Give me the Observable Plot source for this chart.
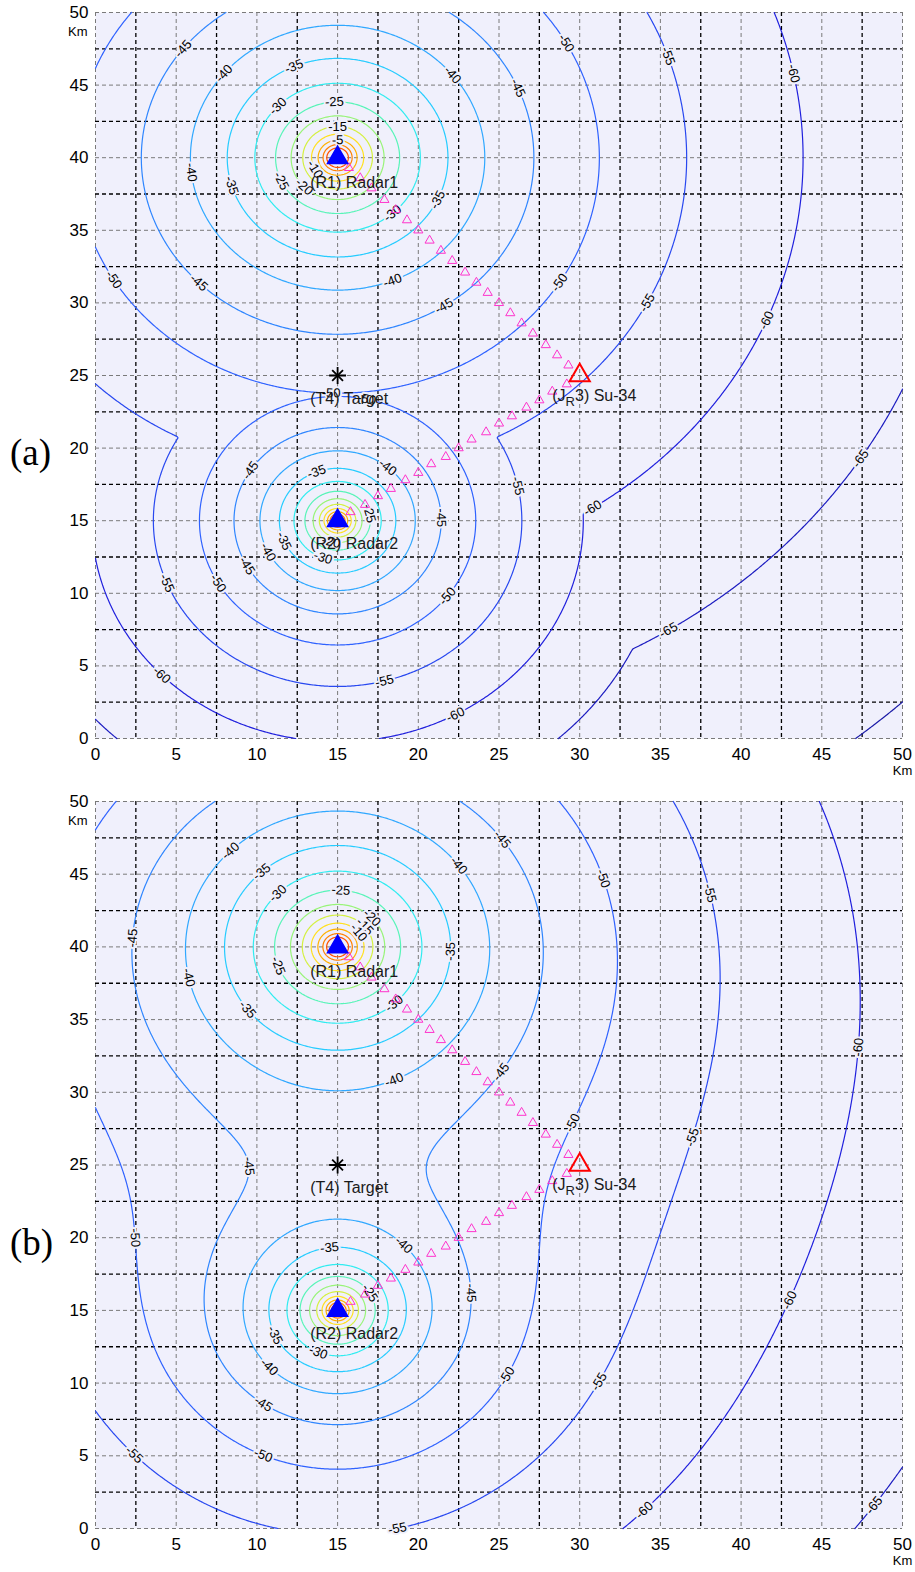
<!DOCTYPE html>
<html>
<head>
<meta charset="utf-8">
<script src="https://cdn.jsdelivr.net/npm/d3@7"></script>
<script src="https://cdn.jsdelivr.net/npm/@observablehq/plot@0.6"></script>
<style>
  html, body { margin: 0; padding: 0; background: #fff; }
  #wrap { position: relative; width: 915px; height: 1572px; }
  #wrap svg { display: block; }
  .plabel { position: absolute; left: 10px; font-family: "Liberation Serif", "Times New Roman", serif; font-size: 37px; line-height: 1; color: #000; }
</style>
</head>
<body>
<div id="wrap">
  <div id="pa"></div>
  <div id="pb"></div>
  <div class="plabel" style="top:434px">(a)</div>
  <div class="plabel" style="top:1224px">(b)</div>
</div>
<script>
// ---------------- data ----------------
const tickVals = [0, 5, 10, 15, 20, 25, 30, 35, 40, 45, 50];
const gridFive = [0, 5, 10, 15, 20, 25, 30, 35, 40, 45, 50];
const gridMid = [2.5, 7.5, 12.5, 17.5, 22.5, 27.5, 32.5, 37.5, 42.5, 47.5];

const levels      = [-70, -65, -60, -55, -50, -45, -40, -35, -30, -25, -20, -15, -10, -5, 0, 5];
const levelColors = ["#1a1aa6", "#1c1cc0", "#2020dd", "#2848f0", "#2f62ff", "#2f86ff", "#30a8ff", "#26ccff",
                     "#30ecf0", "#58f4b8", "#98f478", "#d4f040", "#ffe020", "#ffb000", "#ff8000", "#ff5000"];

// radars (km) and their received level at 1 km (dB) in each panel
const radarX = [15, 15];
const radarY = [40, 15];
const radarNames = ["(R1) Radar1", "(R2) Radar2"];
const gainA = [-1.6, -12.7];
const gainB = [-1.4, -10.5];
const pathExponent = 4;

const targetX = [15], targetY = [25], targetName = ["(T4) Target"];
const jammerX = [30], jammerY = [25], jammerName = ["(JR3) Su-34"];

const textX = [13.3, 13.3, 13.3, 28.3];
const textY = [38.3, 13.4, 23.4, 23.6];
const textStr = ["(R1) Radar1", "(R2) Radar2", "(T4) Target", "(JR3) Su-34"];

// small magenta triangles: Radar1 -> jammer, jammer -> Radar2
const pathX = [15.7, 16.4, 17.1, 17.9, 18.6, 19.3, 20.0, 20.7, 21.4, 22.1, 22.9, 23.6, 24.3, 25.0, 25.7, 26.4, 27.1, 27.9, 28.6, 29.3,
               29.2, 28.3, 27.5, 26.7, 25.8, 25.0, 24.2, 23.3, 22.5, 21.7, 20.8, 20.0, 19.2, 18.3, 17.5, 16.7, 15.8];
const pathY = [39.3, 38.6, 37.9, 37.1, 36.4, 35.7, 35.0, 34.3, 33.6, 32.9, 32.1, 31.4, 30.7, 30.0, 29.3, 28.6, 27.9, 27.1, 26.4, 25.7,
               24.4, 23.9, 23.3, 22.8, 22.2, 21.7, 21.1, 20.6, 20.0, 19.4, 18.9, 18.3, 17.8, 17.2, 16.7, 16.1, 15.6];

// contour labels [level, x, y] (approximate, snapped to the contour)
const labelsA = [
  [-45, 5.5, 47.4], [-40, 7.9, 45.9], [-35, 12.3, 46.2], [-30, 11.3, 43.5], [-25, 14.8, 43.6], [-15, 15.0, 42.1], [-5, 15.0, 41.2],
  [-10, 13.4, 39.1], [-20, 13.0, 38.1], [-25, 11.4, 38.3], [-35, 8.4, 38.1], [-40, 5.8, 39.0],
  [-30, 18.4, 36.2], [-35, 21.2, 37.1], [-40, 18.4, 31.5], [-45, 21.6, 29.8], [-45, 6.4, 31.3], [-50, 1.0, 31.5], [-50, 14.6, 23.8],
  [-40, 21.9, 45.5], [-45, 26.0, 44.7], [-50, 28.9, 47.7], [-55, 35.0, 46.8], [-60, 42.9, 45.7],
  [-50, 28.7, 31.4], [-55, 34.2, 30.0], [-60, 41.5, 28.8],
  [-50, 16.8, 23.1], [-45, 9.8, 18.3], [-35, 13.7, 18.2], [-40, 18.0, 18.5], [-25, 16.6, 15.4], [-45, 21.4, 15.2],
  [-35, 11.6, 13.6], [-40, 10.6, 12.8], [-45, 9.4, 11.9], [-30, 14.1, 12.4], [-20, 14.6, 13.5],
  [-50, 7.5, 10.7], [-55, 4.5, 10.7], [-60, 4.2, 4.5], [-55, 17.9, 4.2], [-50, 21.8, 9.8], [-60, 22.2, 2.0],
  [-55, 25.9, 17.3], [-60, 30.8, 15.8], [-65, 47.2, 19.4], [-65, 35.4, 7.6]
];
const labelsB = [
  [-40, 8.4, 46.5], [-35, 10.4, 45.0], [-30, 11.3, 43.7], [-25, 15.2, 43.7], [-45, 2.4, 40.6], [-40, 5.7, 37.9],
  [-25, 11.2, 38.6], [-35, 9.4, 35.6], [-30, 18.4, 36.2], [-40, 18.5, 31.0], [-35, 21.9, 39.7], [-40, 22.3, 45.4],
  [-20, 16.8, 41.6], [-15, 16.3, 41.0], [-10, 15.9, 40.6],
  [-45, 9.3, 24.9], [-45, 24.9, 47.2], [-50, 31.3, 44.6], [-55, 37.9, 43.7], [-60, 47.3, 33.1], [-45, 25.1, 31.4],
  [-50, 29.6, 27.9], [-55, 37.0, 26.9],
  [-50, 2.6, 20.0], [-35, 14.6, 18.6], [-40, 18.6, 18.9], [-35, 11.5, 13.5], [-40, 11.0, 11.4], [-45, 10.7, 9.0],
  [-50, 10.6, 5.7], [-55, 17.8, 0.7], [-55, 2.7, 5.4], [-30, 13.9, 12.4], [-25, 16.2, 15.6],
  [-45, 22.7, 16.2], [-50, 24.8, 10.9], [-55, 30.7, 10.4], [-60, 42.9, 15.7], [-60, 33.6, 1.7], [-65, 48.2, 1.7]
];

// ---------------- drawing ----------------
const BG = "#f0f0fc";
const FONT = "'Liberation Sans', Arial, Helvetica, sans-serif";
const W = 915, ML = 95, MR = 13;

function field(x, y, gains, combine) {
  const p = radarX.map((rx, k) =>
    gains[k] - 5 * pathExponent * Math.log10((x - rx) ** 2 + (y - radarY[k]) ** 2 + 0.02));
  if (combine === "max") return Math.max(...p);
  return 20 * Math.log10(p.reduce((s, v) => s + Math.pow(10, v / 20), 0));
}

function contourLines(values, n, step, level) {
  const geom = d3.contours().size([n, n]).thresholds([level])(values)[0];
  const out = [];
  for (const poly of geom.coordinates) for (const ring of poly) {
    const pts = ring.slice(0, -1);
    if (pts.length < 2) continue;
    const onB = pts.map(p => p[0] <= 0 || p[0] >= n || p[1] <= 0 || p[1] >= n);
    const b0 = onB.indexOf(true);
    if (b0 < 0) { out.push([...pts, pts[0]]); continue; }
    let cur = [];
    for (let k = 1; k <= pts.length; k++) {
      const i = (b0 + k) % pts.length;
      if (onB[i]) { if (cur.length > 1) out.push(cur); cur = []; }
      else cur.push(pts[i]);
    }
    if (cur.length > 1) out.push(cur);
  }
  return out.map(l => l.map(([cx, cy]) => [(cx - 0.5) * step, (cy - 0.5) * step]));
}

function buildPanel({gains, combine, labels, H, MT, MB}) {
  const n = 501, step = 50 / (n - 1);
  const values = new Float64Array(n * n);
  for (let j = 0; j < n; j++) for (let i = 0; i < n; i++)
    values[i + j * n] = field(i * step, j * step, gains, combine);

  const kx = (W - ML - MR) / 50, ky = (H - MT - MB) / 50;
  const linesByLevel = new Map();
  const contourMarks = [];
  levels.forEach((lv, k) => {
    const lines = contourLines(values, n, step, lv);
    linesByLevel.set(lv, lines);
    const data = [];
    lines.forEach((l, id) => l.forEach(([x, y]) => data.push({x, y, id})));
    contourMarks.push(Plot.line(data, {x: "x", y: "y", z: "id", stroke: levelColors[k], strokeWidth: 1.2}));
  });

  const labelData = labels.map(([lv, lx, ly]) => {
    const ls = linesByLevel.get(lv) || [];
    let best = null, bd = Infinity;
    for (const line of ls) for (let i = 0; i < line.length; i++) {
      const d = ((line[i][0] - lx) * kx) ** 2 + ((line[i][1] - ly) * ky) ** 2;
      if (d < bd) { bd = d; best = {line, i}; }
    }
    if (!best) return null;
    const {line, i} = best;
    const a = line[Math.max(0, i - 3)], b = line[Math.min(line.length - 1, i + 3)];
    let ang = Math.atan2(-(b[1] - a[1]) * ky, (b[0] - a[0]) * kx) * 180 / Math.PI;
    if (ang > 90) ang -= 180;
    if (ang < -90) ang += 180;
    return {x: line[i][0], y: line[i][1], text: String(lv), rotate: ang};
  }).filter(Boolean);

  const radars = radarX.map((x, i) => ({x, y: radarY[i]}));
  const path = pathX.map((x, i) => ({x, y: pathY[i]}));
  const texts = textX.map((x, i) => ({x, y: textY[i], t: textStr[i]}));

  const svg = Plot.plot({
    width: W, height: H,
    marginLeft: ML, marginRight: MR, marginTop: MT, marginBottom: MB,
    style: {fontFamily: FONT, fontSize: "17px", background: "#fff", color: "#000", overflow: "visible"},
    x: {domain: [0, 50], ticks: tickVals, tickSize: 0, tickPadding: 9, label: null},
    y: {domain: [0, 50], ticks: tickVals, tickSize: 0, tickPadding: 7, label: null},
    marks: [
      Plot.frame({fill: BG, stroke: "none"}),
      Plot.ruleX(gridFive, {stroke: "#7a7a7a", strokeWidth: 1, strokeDasharray: "4,3"}),
      Plot.ruleY(gridFive, {stroke: "#7a7a7a", strokeWidth: 1, strokeDasharray: "4,3"}),
      Plot.ruleX(gridMid, {stroke: "#000", strokeWidth: 1.3, strokeDasharray: "4,3"}),
      Plot.ruleY(gridMid, {stroke: "#000", strokeWidth: 1.3, strokeDasharray: "4,3"}),
      ...contourMarks,
      Plot.text(labelData, {x: "x", y: "y", text: "text", rotate: "rotate", fontSize: 13, fill: "#000",
                            stroke: BG, strokeWidth: 4, fontFamily: FONT}),
      Plot.dot(path, {x: "x", y: "y", symbol: "triangle", r: 3.4, stroke: "#ff33cc", fill: "none", strokeWidth: 1}),
      Plot.dot(radars, {x: "x", y: "y", symbol: "triangle", r: 7.5, fill: "#0000ff", stroke: "#0000ff"}),
      Plot.dot(jammerX.map((x, i) => ({x, y: jammerY[i]})), {x: "x", y: "y", symbol: "triangle", r: 7.5,
                            stroke: "#ff0000", fill: "none", strokeWidth: 2}),
      Plot.dot(targetX.map((x, i) => ({x, y: targetY[i]})), {x: "x", y: "y", symbol: "plus", r: 5.5, stroke: "#000", strokeWidth: 1.8}),
      Plot.dot(targetX.map((x, i) => ({x, y: targetY[i]})), {x: "x", y: "y", symbol: "times", r: 5, stroke: "#000", strokeWidth: 1.8}),
      Plot.text(texts, {x: "x", y: "y", text: "t", textAnchor: "start", fontSize: 16, fill: "#1a1a1a", fontFamily: FONT}),
      Plot.text([{x: 0, y: 50}], {x: "x", y: "y", text: () => "Km", textAnchor: "end", dx: -8, dy: 19, fontSize: 13, fontFamily: FONT}),
      Plot.text([{x: 50, y: 0}], {x: "x", y: "y", text: () => "Km", textAnchor: "middle", dy: 32, fontSize: 13, fontFamily: FONT})
    ]
  });

  // subscript R in the jammer label
  svg.querySelectorAll("text").forEach(t => {
    if (t.textContent === "(JR3) Su-34") {
      t.textContent = "";
      const ns = "http://www.w3.org/2000/svg";
      const a = document.createElementNS(ns, "tspan"); a.textContent = "(J";
      const b = document.createElementNS(ns, "tspan"); b.textContent = "R"; b.setAttribute("dy", "5"); b.setAttribute("font-size", "13");
      const c = document.createElementNS(ns, "tspan"); c.textContent = "3) Su-34"; c.setAttribute("dy", "-5");
      t.append(a, b, c);
    }
  });
  return svg;
}

document.getElementById("pa").append(buildPanel({gains: gainA, combine: "max", labels: labelsA, H: 785, MT: 12, MB: 47}));
document.getElementById("pb").append(buildPanel({gains: gainB, combine: "sum", labels: labelsB, H: 787, MT: 16, MB: 44}));
</script>
</body>
</html>
